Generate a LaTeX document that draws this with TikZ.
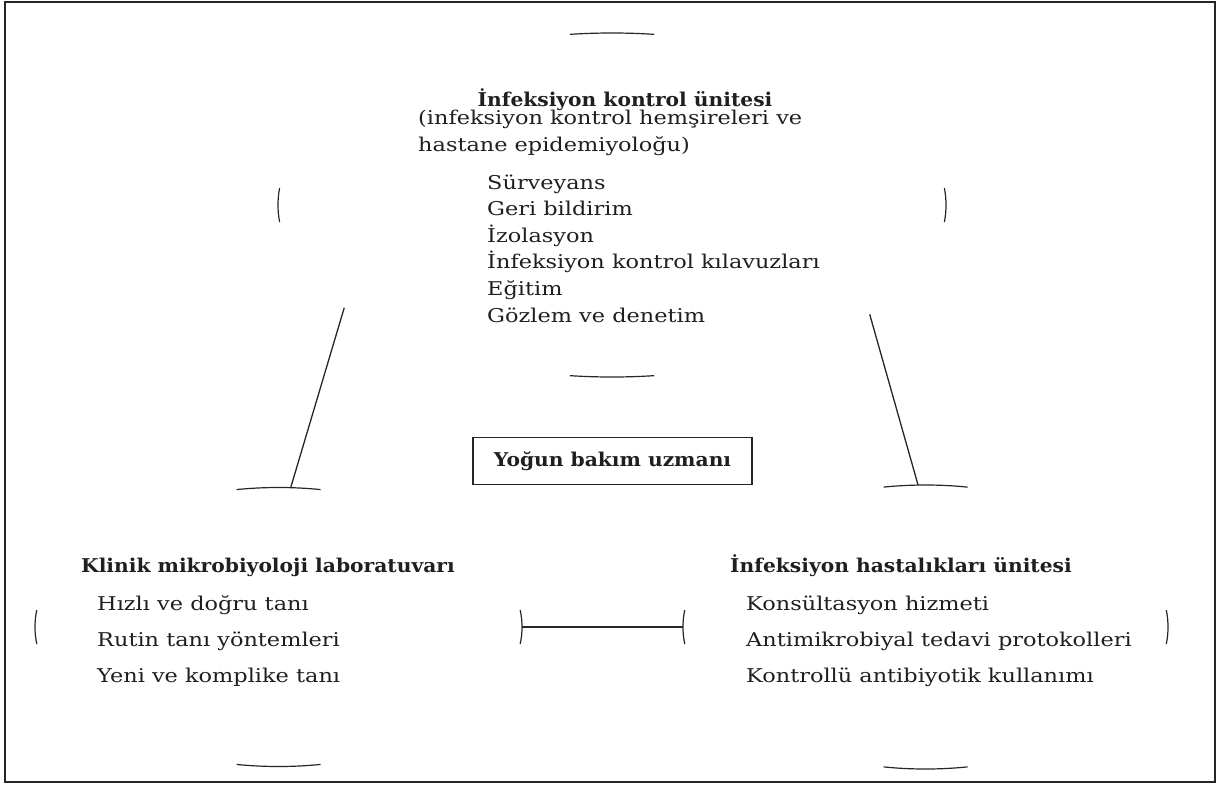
\documentclass[tikz,border=0pt]{standalone}
\usepackage{fontspec}
\setmainfont{DejaVu Serif}[FakeStretch=1.18]
\newfontfamily\headfont{DejaVu Serif}[FakeStretch=1.065]
\usetikzlibrary{shapes.geometric}
% #1 node, #2 x radius, #3 y radius
\newcommand\ellmarks[3]{%
  \begin{scope}
    \clip ([shift={(-42,-5)}]#1.north) rectangle ([shift={(42,5)}]#1.north)
          ([shift={(-42,-5)}]#1.south) rectangle ([shift={(42,5)}]#1.south)
          ([shift={(-5,-17)}]#1.west) rectangle ([shift={(5,17)}]#1.west)
          ([shift={(-5,-17)}]#1.east) rectangle ([shift={(5,17)}]#1.east);
    \draw[ring] (#1.center) ellipse [x radius=#2, y radius=#3];
  \end{scope}}
\begin{document}
\begin{tikzpicture}[x=1pt,y=-1pt]
\tikzset{
  frame/.style={draw=black!85, line width=1.2pt},
  unit/.style={ellipse, draw=none, inner sep=0pt, outer sep=0pt},
  ring/.style={draw=black!85, line width=1.2pt},
  link/.style={draw=black!85, line width=1.3pt},
  txt/.style={font=\fontsize{19}{26.6}\selectfont, text=black!88, align=left, inner sep=0pt},
  head/.style={font=\headfont\fontsize{19}{26}\selectfont\bfseries, text=black!88, inner sep=0pt},
  boxed/.style={draw=black!85, line width=1.1pt, minimum width=279pt, minimum height=47pt,
    font=\headfont\fontsize{19}{26}\selectfont\bfseries, text=black!88}
}
\useasboundingbox (0,0) rectangle (1220,784);
\draw[frame] (5,2) rectangle (1215,782);

\node[unit, minimum width=668pt, minimum height=344pt] (icu) at (612,205) {};
\node[unit, minimum width=487pt, minimum height=279pt] (lab) at (278.5,627) {};
\node[unit, minimum width=485pt, minimum height=284pt] (idu) at (925.5,627) {};
\ellmarks{icu}{334}{172}
\ellmarks{lab}{243.5}{139.5}
\ellmarks{idu}{242.5}{142}

\draw[link] (icu.201.3) -- (lab.85.3);
\draw[link] (icu.337.4) -- (idu.93);
\draw[link] (lab.east) -- (idu.west);

\node[boxed] (icm) at (612.5,461) {Yoğun bakım uzmanı};

\node[head, anchor=base] (t1) at (625,106) {İnfeksiyon kontrol ünitesi};
\node[txt, anchor=base west] (t2) at (418,151) {(infeksiyon kontrol hemşireleri ve\\hastane epidemiyoloğu)};
\node[txt, anchor=base west] (t3) at (487,322) {Sürveyans\\Geri bildirim\\İzolasyon\\İnfeksiyon kontrol kılavuzları\\Eğitim\\Gözlem ve denetim};

\node[head, anchor=base west] (l1) at (81,572) {Klinik mikrobiyoloji laboratuvarı};
\node[txt, anchor=base west, font=\fontsize{19}{36}\selectfont] (l2) at (97,682) {Hızlı ve doğru tanı\\Rutin tanı yöntemleri\\Yeni ve komplike tanı};

\node[head, anchor=base west] (r1) at (730,572) {İnfeksiyon hastalıkları ünitesi};
\node[txt, anchor=base west, font=\fontsize{19}{36}\selectfont] (r2) at (746,682) {Konsültasyon hizmeti\\Antimikrobiyal tedavi protokolleri\\Kontrollü antibiyotik kullanımı};
\end{tikzpicture}
\end{document}
